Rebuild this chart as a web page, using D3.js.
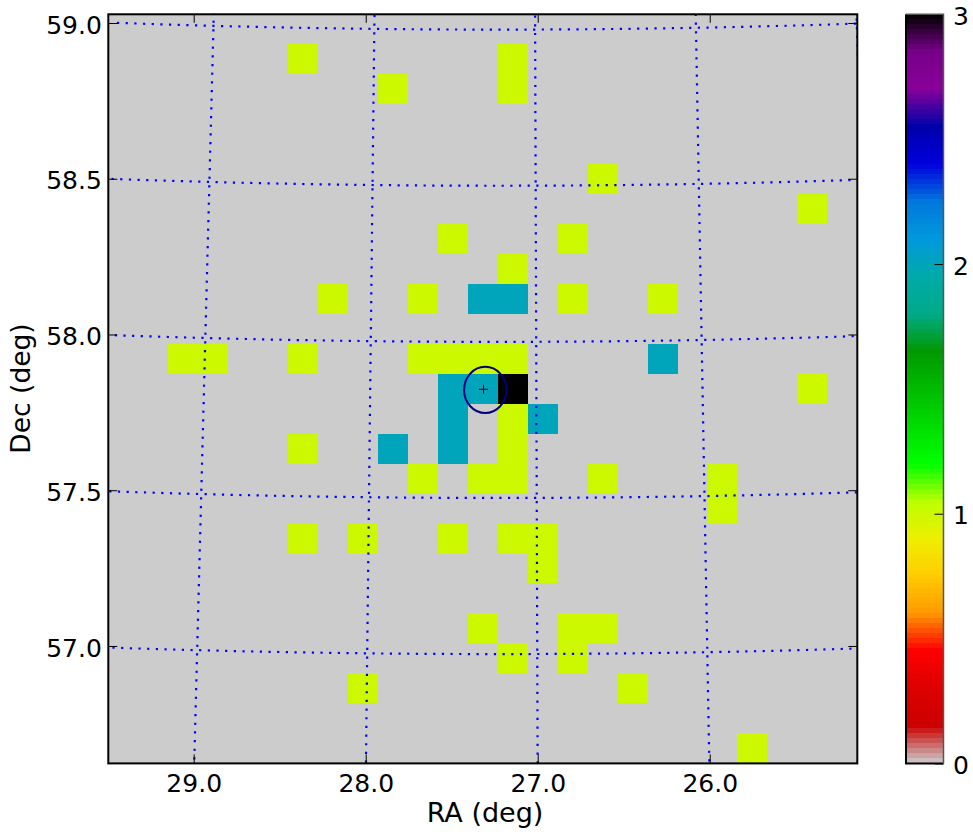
<!DOCTYPE html>
<meta charset="utf-8">

<!-- Load d3.js -->
<script src="https://d3js.org/d3.v7.min.js"></script>

<style>
    body { margin: 0; background: #fff; }
    text { font-family: "DejaVu Sans", sans-serif; fill: #000; }
</style>

<svg id="my_dataviz" width="973" height="834"></svg>

<script>

    // Axis ranges and ticks
    const raRange = [29.4965, 25.142];
    const decRange = [56.623, 59.0295];
    const raTicks = [29, 28, 27, 26];
    const decTicks = [57, 57.5, 58, 58.5, 59];
    const countTicks = [0, 1, 2, 3];

    // Histogram: 25 x 25 bins, only the non empty ones are listed
    const binIds = d3.range(25);
    const cellCols = [6, 13, 9, 13, 16, 23, 11, 15, 13, 7, 10, 12, 13, 15, 18, 2, 3, 6, 10, 11, 12, 13, 18, 11, 12, 13, 23, 11, 13, 14, 6, 9, 11, 13, 10, 12, 13, 16, 20, 20, 6, 8, 11, 13, 14, 14, 12, 15, 16, 13, 15, 8, 17, 21];
    const cellRows = [1, 1, 2, 2, 5, 6, 7, 7, 8, 9, 9, 9, 9, 9, 9, 11, 11, 11, 11, 11, 11, 11, 11, 12, 12, 12, 12, 13, 13, 13, 14, 14, 14, 14, 15, 15, 15, 15, 15, 16, 17, 17, 17, 17, 17, 18, 20, 20, 20, 21, 21, 22, 22, 24];
    const cellCounts = [1, 1, 1, 1, 1, 1, 1, 1, 1, 1, 1, 2, 2, 1, 1, 1, 1, 1, 1, 1, 1, 1, 2, 2, 2, 3, 1, 2, 1, 2, 1, 2, 2, 1, 1, 1, 1, 1, 1, 1, 1, 1, 1, 1, 1, 1, 1, 1, 1, 1, 1, 1, 1, 1];

    // Coordinate grid (tangent plane) and the source marker
    const gridRA = [25, 26, 27, 28, 29, 30];
    const gridDec = [57, 57.5, 58, 58.5, 59];
    const tangentRA = 27.23;
    const tangentDec = 57.85;
    const tangentAxisDec = 57.826;
    const sourceRA = 27.315;
    const sourceDec = 57.824;
    const circleRA = 27.305;
    const circleDec = 57.822;
    const circleRadiusRA = 0.123;
    const circleRadiusDec = 0.074;

    // Colormap (reversed "spectral" of matplotlib)
    const cmapStops = d3.range(21).map(d => d / 20 * 3);
    const cmapColors = ["#cccccc", "#cc0000", "#dd0000", "#ff0000", "#ff9900", "#ffcc00", "#eeee00", "#bbff00", "#00ff00", "#00dd00", "#00bb00", "#009900", "#00aa88", "#00aaaa", "#0099dd", "#0077dd", "#0000dd", "#0000aa", "#880099", "#770088", "#000000"];

    // The svg
    const svg = d3.select("svg");
    const plot = { left: 108.3, right: 857.3, top: 13.8, bottom: 763.4 };
    const bar = { left: 906, right: 943.5 };

    const x = d3.scaleLinear().domain(raRange).range([plot.left, plot.right]);
    const y = d3.scaleLinear().domain(decRange).range([plot.bottom, plot.top]);
    const colX = d3.scaleBand().domain(binIds).range([plot.left, plot.right]);
    const rowY = d3.scaleBand().domain(binIds).range([plot.top, plot.bottom]);
    const barY = d3.scaleLinear().domain([0, 3]).range([plot.bottom, plot.top + 0.6]);

    const colorScale = d3.scaleLinear().domain(cmapStops).range(cmapColors);

    svg.append("clipPath").attr("id", "plot-clip")
        .append("rect")
        .attr("x", plot.left)
        .attr("y", plot.top)
        .attr("width", plot.right - plot.left)
        .attr("height", plot.bottom - plot.top);

    // background = zero counts
    svg.append("rect")
        .attr("x", plot.left)
        .attr("y", plot.top)
        .attr("width", plot.right - plot.left)
        .attr("height", plot.bottom - plot.top)
        .attr("fill", colorScale(0));

    // Cells
    svg.append("g")
        .attr("shape-rendering", "crispEdges")
        .selectAll("rect")
        .data(cellCounts)
        .enter()
        .append("rect")
        .attr("x", (d, i) => colX(cellCols[i]))
        .attr("y", (d, i) => rowY(cellRows[i]))
        .attr("width", colX.bandwidth())
        .attr("height", rowY.bandwidth())
        .attr("fill", d => colorScale(d));

    // Tangent plane projection for the dotted coordinate grid
    const rad = Math.PI / 180;
    const pxPerDeg = 312.2;
    function project(ra, dec) {
        const da = (ra - tangentRA) * rad, d = dec * rad, d0 = tangentDec * rad;
        const D = Math.sin(d) * Math.sin(d0) + Math.cos(d) * Math.cos(d0) * Math.cos(da);
        const xi = Math.cos(d) * Math.sin(da) / D;
        const eta = (Math.sin(d) * Math.cos(d0) - Math.cos(d) * Math.sin(d0) * Math.cos(da)) / D;
        return [x(tangentRA) - pxPerDeg * xi / rad, y(tangentAxisDec) - pxPerDeg * eta / rad];
    }
    const gridLine = d3.line().x(d => d[0]).y(d => d[1]);
    const grid = svg.append("g").attr("clip-path", "url(#plot-clip)")
        .attr("fill", "none")
        .attr("stroke", "#0000ff")
        .attr("stroke-width", 2.2)
        .attr("stroke-dasharray", "2.2 6.47");
    gridRA.forEach(function (ra) {
        grid.append("path")
            .attr("d", gridLine(d3.range(56.4, 59.2, 0.05).map(dec => project(ra, dec))));
    });
    gridDec.forEach(function (dec) {
        grid.append("path")
            .attr("d", gridLine(d3.range(29.6, 25, -0.05).map(ra => project(ra, dec))));
    });

    // Source marker
    svg.append("ellipse")
        .attr("cx", x(circleRA))
        .attr("cy", y(circleDec))
        .attr("rx", Math.abs(x(circleRA + circleRadiusRA) - x(circleRA)))
        .attr("ry", Math.abs(y(circleDec + circleRadiusDec) - y(circleDec)))
        .attr("fill", "none")
        .attr("stroke", "#000080")
        .attr("stroke-width", 2);
    svg.append("path")
        .attr("d", `M${x(sourceRA) - 4.5},${y(sourceDec)}h9M${x(sourceRA)},${y(sourceDec) - 4.5}v9`)
        .attr("stroke", "#000")
        .attr("stroke-width", 1)
        .attr("fill", "none");

    // Axes: ticks point inward on all four sides
    function styleAxis(g) {
        g.select(".domain").remove();
        g.selectAll(".tick line").attr("stroke", "#000").attr("stroke-width", 1);
    }
    const fmt = d3.format(".1f");

    svg.append("g").attr("transform", `translate(0,${plot.bottom})`)
        .call(d3.axisBottom(x).tickValues(raTicks).tickFormat(fmt).tickSize(-9).tickPadding(10.5))
        .call(styleAxis)
        .selectAll("text").style("font-size", "25px");
    svg.append("g").attr("transform", `translate(0,${plot.top})`)
        .call(d3.axisTop(x).tickValues(raTicks).tickFormat("").tickSize(-9))
        .call(styleAxis);
    svg.append("g").attr("transform", `translate(${plot.left},0)`)
        .call(d3.axisLeft(y).tickValues(decTicks).tickFormat(fmt).tickSize(-9).tickPadding(6.5))
        .call(styleAxis)
        .selectAll("text").attr("dy", "0.41em").style("font-size", "25px");
    svg.append("g").attr("transform", `translate(${plot.right},0)`)
        .call(d3.axisRight(y).tickValues(decTicks).tickFormat("").tickSize(-9))
        .call(styleAxis);

    // Plot frame
    svg.append("rect")
        .attr("x", plot.left)
        .attr("y", plot.top + 0.5)
        .attr("width", plot.right - plot.left)
        .attr("height", plot.bottom - plot.top - 0.5)
        .attr("fill", "none")
        .attr("stroke", "#000")
        .attr("stroke-width", 2);

    // Axis titles
    svg.append("text")
        .attr("x", 485)
        .attr("y", 822)
        .attr("text-anchor", "middle")
        .style("font-size", "27px")
        .text("RA (deg)");
    svg.append("text")
        .attr("transform", "translate(30,388.5) rotate(-90)")
        .attr("text-anchor", "middle")
        .style("font-size", "26.5px")
        .text("Dec (deg)");

    // Colorbar
    const barLevels = 150;
    const barStep = (plot.bottom - plot.top) / barLevels;
    svg.append("g")
        .attr("shape-rendering", "crispEdges")
        .selectAll("rect")
        .data(d3.range(barLevels))
        .enter()
        .append("rect")
        .attr("x", bar.left)
        .attr("y", d => plot.bottom - (d + 1) * barStep)
        .attr("width", bar.right - bar.left)
        .attr("height", barStep)
        .attr("fill", d => colorScale((d + 0.5) / barLevels * 3));

    svg.append("g").attr("transform", `translate(${bar.right},0)`)
        .call(d3.axisRight(barY).tickValues(countTicks).tickFormat(d3.format("d")).tickSize(-9).tickPadding(9.5))
        .call(styleAxis)
        .selectAll("text").attr("dy", "0.41em").style("font-size", "25px");

    // Colorbar outline: dark left and bottom, softer top and right
    svg.append("path")
        .attr("d", `M${bar.left},${plot.top + 0.5}V${plot.bottom}H${bar.right}`)
        .attr("fill", "none")
        .attr("stroke", "#000")
        .attr("stroke-width", 2);
    svg.append("path")
        .attr("d", `M${bar.left},${plot.top + 0.5}H${bar.right}V${plot.bottom}`)
        .attr("fill", "none")
        .attr("stroke", "#555")
        .attr("stroke-width", 1.5);

</script>
